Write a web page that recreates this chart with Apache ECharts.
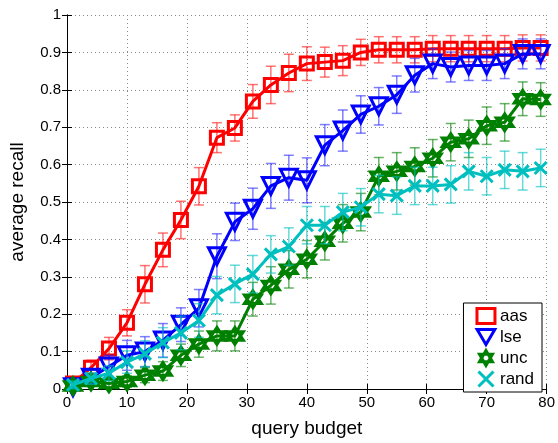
<!DOCTYPE html>
<html>
<head>
<meta charset="utf-8">
<script src="https://cdn.jsdelivr.net/npm/echarts@6/dist/echarts.min.js"></script>
<style>html,body{margin:0;padding:0;background:#fff;}#c{width:558px;height:443px;}</style>
</head>
<body>
<div id="c"></div>
<script>
const budget = [1,4,7,10,13,16,19,22,25,28,31,34,37,40,43,46,49,52,55,58,61,64,67,70,73,76,79];
const aas = [0.015,0.057,0.108,0.177,0.28,0.372,0.452,0.542,0.672,0.698,0.769,0.813,0.845,0.87,0.874,0.878,0.90,0.907,0.907,0.907,0.91,0.91,0.91,0.91,0.91,0.912,0.912];
const aasErr = [0.01,0.02,0.03,0.035,0.05,0.045,0.05,0.05,0.04,0.035,0.045,0.05,0.05,0.045,0.04,0.04,0.035,0.035,0.035,0.035,0.035,0.035,0.035,0.035,0.035,0.035,0.035];
const lse = [0.005,0.03,0.06,0.09,0.10,0.13,0.172,0.216,0.355,0.447,0.482,0.543,0.565,0.558,0.652,0.691,0.734,0.756,0.787,0.839,0.87,0.861,0.865,0.865,0.87,0.896,0.896];
const lseErr = [0.01,0.02,0.03,0.04,0.04,0.045,0.045,0.05,0.06,0.05,0.055,0.06,0.06,0.06,0.055,0.055,0.05,0.05,0.05,0.045,0.04,0.04,0.04,0.04,0.04,0.04,0.04];
const unc = [0.008,0.02,0.015,0.02,0.037,0.048,0.09,0.12,0.142,0.142,0.24,0.277,0.32,0.347,0.395,0.443,0.473,0.569,0.582,0.595,0.617,0.66,0.669,0.704,0.713,0.776,0.774];
const uncErr = [0.01,0.01,0.01,0.015,0.02,0.025,0.03,0.035,0.04,0.04,0.045,0.05,0.05,0.05,0.05,0.05,0.05,0.05,0.05,0.05,0.05,0.05,0.05,0.05,0.05,0.045,0.045];
const rand = [0.011,0.028,0.042,0.072,0.094,0.124,0.15,0.183,0.251,0.281,0.307,0.36,0.381,0.438,0.438,0.473,0.486,0.521,0.517,0.543,0.543,0.547,0.582,0.569,0.586,0.582,0.591];
const randErr = [0.01,0.015,0.02,0.03,0.035,0.04,0.045,0.045,0.05,0.05,0.05,0.05,0.05,0.05,0.05,0.05,0.05,0.05,0.05,0.05,0.05,0.05,0.05,0.05,0.05,0.05,0.05];
const seriesNames = ['aas','lse','unc','rand'];
const xTicks = [0,10,20,30,40,50,60,70,80];

const colors = ['#ff0000','#0000ff','#008000','#00bfbf'];
const barColors = ['rgba(255,40,40,0.65)','rgba(40,40,255,0.6)','rgba(0,128,0,0.6)','rgba(0,191,191,0.6)'];
const hexagram = 'path://M0,-10 L8.66,5 L-8.66,5 Z M0,10 L-8.66,-5 L8.66,-5 Z';
const downTri = 'path://M-10,-8 L10,-8 L0,9 Z';
const cross = 'path://M-5,-5 L5,5 M-5,5 L5,-5';
const symbols = ['rect',downTri,hexagram,cross];
const symbolSizes = [13,17,17,12];
const vals = [aas,lse,unc,rand];
const errs = [aasErr,lseErr,uncErr,randErr];

function errRender(color){
  return function(params, api){
    const x = api.value(0), y = api.value(1), e = api.value(2);
    const t = api.coord([x, y + e]);
    const b = api.coord([x, Math.max(0, y - e)]);
    const w = 5;
    const st = {stroke: color, lineWidth: 1.5};
    return {type:'group', children:[
      {type:'line', shape:{x1:t[0],y1:t[1],x2:b[0],y2:b[1]}, style:st},
      {type:'line', shape:{x1:t[0]-w,y1:t[1],x2:t[0]+w,y2:t[1]}, style:st},
      {type:'line', shape:{x1:b[0]-w,y1:b[1],x2:b[0]+w,y2:b[1]}, style:st}
    ]};
  };
}

const series = [];
seriesNames.forEach((n,i)=>{
  series.push({
    type:'custom', name:n+'_err', renderItem: errRender(barColors[i]),
    data: budget.map((x,k)=>[x, vals[i][k], errs[i][k]]),
    z: 2 + i*2, silent:true
  });
});
seriesNames.forEach((n,i)=>{
  series.push({
    type:'line', name:n,
    data: budget.map((x,k)=>[x, vals[i][k]]),
    symbol: symbols[i], symbolSize: symbolSizes[i],
    showAllSymbol: true,
    lineStyle:{color: colors[i], width: 3},
    itemStyle:{color:'rgba(0,0,0,0)', borderColor: colors[i], borderWidth: 3},
    z: 3 + i*2, animation:false
  });
});

const font = "'Liberation Sans', Arial, sans-serif";
const chart = echarts.init(document.getElementById('c'));
chart.setOption({
  animation:false,
  backgroundColor:'#fff',
  grid:{left:62, top:15, width:486, height:383, containLabel:false},
  xAxis:[{
    type:'value', min:0, max:80, interval:10,
    name:'query budget', nameLocation:'middle', nameGap:30,
    nameTextStyle:{fontSize:19, color:'#000', fontFamily:font},
    axisLine:{show:true, lineStyle:{color:'#000', width:1}},
    axisTick:{show:true, inside:true, length:5, lineStyle:{color:'#000'}},
    axisLabel:{fontSize:15, color:'#000', fontFamily:font, margin:6},
    splitLine:{show:true, lineStyle:{color:'#888', type:[1,3], width:1}}
  },{
    type:'value', min:0, max:80, interval:10, position:'top',
    axisLine:{show:true, lineStyle:{color:'#000', width:1}},
    axisTick:{show:true, inside:true, length:5, lineStyle:{color:'#000'}},
    axisLabel:{show:false}, splitLine:{show:false}
  }],
  yAxis:[{
    type:'value', min:0, max:1, interval:0.1,
    name:'average recall', nameLocation:'middle', nameGap:40,
    nameTextStyle:{fontSize:19, color:'#000', fontFamily:font},
    axisLine:{show:true, lineStyle:{color:'#000', width:1}},
    axisTick:{show:true, inside:true, length:5, lineStyle:{color:'#000'}},
    axisLabel:{fontSize:15, color:'#000', fontFamily:font, margin:6},
    splitLine:{show:true, lineStyle:{color:'#888', type:[1,3], width:1}}
  },{
    type:'value', min:0, max:1, interval:0.1, position:'right',
    axisLine:{show:true, lineStyle:{color:'#000', width:1}},
    axisTick:{show:true, inside:true, length:5, lineStyle:{color:'#000'}},
    axisLabel:{show:false}, splitLine:{show:false}
  }],
  legend:{
    data: seriesNames.map((n,i)=>({name:n, icon: symbols[i],
      itemStyle:{color:'rgba(0,0,0,0)', borderColor: colors[i], borderWidth: 3}})),
    orient:'vertical', right:16, bottom:51,
    backgroundColor:'#fff', borderColor:'#000', borderWidth:1,
    padding:[4,8,4,12], itemGap:3, itemWidth:18, itemHeight:15,
    textStyle:{fontSize:17, color:'#000', fontFamily:font},
    selectedMode:false
  },
  series: series
});
</script>
</body>
</html>
